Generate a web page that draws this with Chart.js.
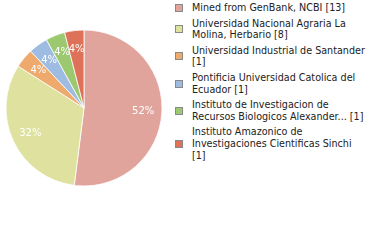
<!DOCTYPE html>
<html>
<head>
<meta charset="utf-8">
<script src="https://cdn.jsdelivr.net/npm/chart.js@4"></script>
<style>
  body { margin: 0; background: #fff; width: 380px; height: 240px; overflow: hidden; position: relative; }
  #pieBox { position: absolute; left: 0; top: 0; width: 168px; height: 216px; }
  #legend { position: absolute; left: 175px; top: 2px; width: 205px;
    font-family: "DejaVu Sans", sans-serif; font-size: 9.6px; color: #222;
    display: flex; flex-direction: column; gap: 4px; }
  .item { display: flex; align-items: center; line-height: 11.6px; }
  .sw { width: 6px; height: 6px; border: 1px solid #888; flex: none; margin-right: 9px; }
  .txt { white-space: pre; }
</style>
</head>
<body>
<div id="pieBox"><canvas id="grafico"></canvas></div>
<div id="legend"></div>
<script>
const etiquetas = [
  'Mined from GenBank, NCBI',
  'Universidad Nacional Agraria La Molina, Herbario',
  'Universidad Industrial de Santander',
  'Pontificia Universidad Catolica del Ecuador',
  'Instituto de Investigacion de Recursos Biologicos Alexander...',
  'Instituto Amazonico de Investigaciones Cientificas Sinchi'
];
// cortes de linea tal como salen en la leyenda
const lineasLeyenda = [
  'Mined from GenBank, NCBI [13]',
  'Universidad Nacional Agraria La\nMolina, Herbario [8]',
  'Universidad Industrial de Santander\n[1]',
  'Pontificia Universidad Catolica del\nEcuador [1]',
  'Instituto de Investigacion de\nRecursos Biologicos Alexander... [1]',
  'Instituto Amazonico de\nInvestigaciones Cientificas Sinchi\n[1]'
];
const registros = [13, 8, 1, 1, 1, 1];
const colores = ['#e0a49d', '#dee29e', '#edaa6c', '#9ebce1', '#9cc870', '#de7259'];

const total = registros.reduce((acc, v) => acc + v, 0);

// leyenda en HTML
const legend = document.getElementById('legend');
lineasLeyenda.forEach((txt, i) => {
  const item = document.createElement('div');
  item.className = 'item';
  const sw = document.createElement('span');
  sw.className = 'sw';
  sw.style.background = colores[i];
  const t = document.createElement('span');
  t.className = 'txt';
  t.textContent = txt;
  item.appendChild(sw);
  item.appendChild(t);
  legend.appendChild(item);
});

// porcentajes dentro de cada porcion
const etiquetasPorcentaje = {
  id: 'etiquetasPorcentaje',
  afterDatasetsDraw(chart) {
    const ctx = chart.ctx;
    const meta = chart.getDatasetMeta(0);
    ctx.save();
    ctx.fillStyle = '#fff';
    ctx.font = '10px "DejaVu Sans", sans-serif';
    ctx.textAlign = 'center';
    ctx.textBaseline = 'middle';
    meta.data.forEach((arc, i) => {
      const p = arc.getProps(['x', 'y', 'startAngle', 'endAngle', 'outerRadius']);
      const mid = (p.startAngle + p.endAngle) / 2;
      const r = p.outerRadius * 0.76;
      const pct = Math.round(registros[i] / total * 100) + '%';
      ctx.fillText(pct, p.x + Math.cos(mid) * r, p.y + Math.sin(mid) * r);
    });
    ctx.restore();
  }
};

new Chart(document.getElementById('grafico').getContext('2d'), {
  type: 'pie',
  data: {
    labels: etiquetas,
    datasets: [{
      data: registros,
      backgroundColor: colores,
      borderColor: '#fff',
      borderWidth: 0.8
    }]
  },
  options: {
    responsive: true,
    maintainAspectRatio: false,
    animation: false,
    radius: 78,
    plugins: {
      legend: { display: false },
      tooltip: { enabled: false }
    }
  },
  plugins: [etiquetasPorcentaje]
});
</script>
</body>
</html>
